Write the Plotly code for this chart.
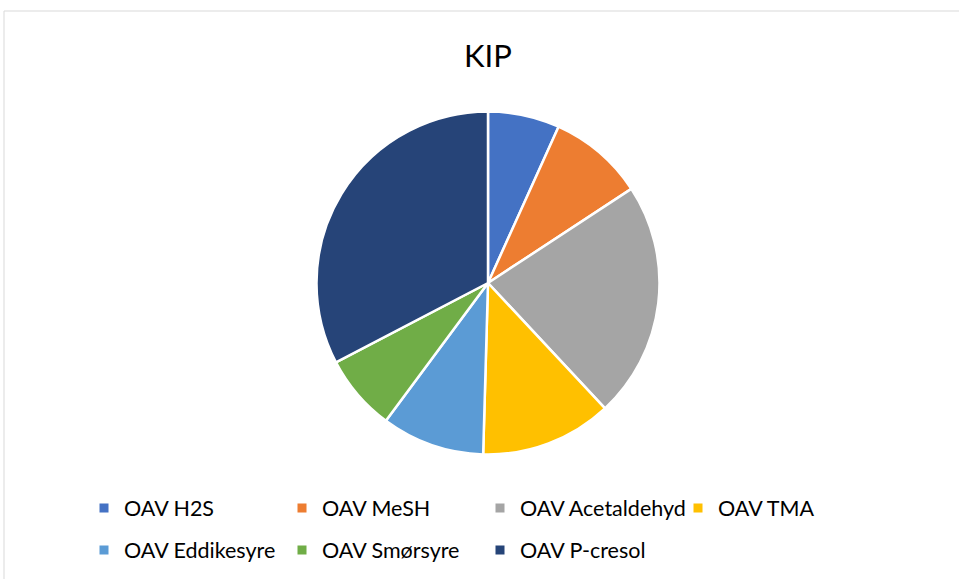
import plotly.graph_objects as go

labels = ["OAV H2S", "OAV MeSH", "OAV Acetaldehyd", "OAV TMA",
          "OAV Eddikesyre", "OAV Smørsyre", "OAV P-cresol"]
values = [6.75, 9.0, 22.3, 12.4, 9.7, 7.2, 32.65]
colors = ["#4472C4", "#ED7D31", "#A5A5A5", "#FFC000",
          "#5B9BD5", "#70AD47", "#264478"]
legend_rows = [0, 0, 0, 0, 1, 1, 1]

W, H = 959, 579
cx, cy = 488, 283
rd = 171.5

fig = go.Figure(go.Pie(
    labels=labels, values=values, sort=False, direction="clockwise",
    rotation=0, textinfo="none", hoverinfo="label+percent", showlegend=False,
    marker=dict(colors=colors, line=dict(color="white", width=2.5)),
    domain=dict(x=[(cx - rd) / W, (cx + rd) / W],
                y=[(H - cy - rd) / H, (H - cy + rd) / H]),
))

# legend entries (two rows, as in the original)
for lab, col, row in zip(labels, colors, legend_rows):
    fig.add_trace(go.Scatter(
        x=[None], y=[None], mode="markers", name=lab,
        marker=dict(symbol="square", size=9, color=col),
        legend="legend" if row == 0 else "legend2", hoverinfo="skip"))

leg_common = dict(orientation="h", x=84 / W, xanchor="left", yanchor="middle",
                  entrywidth=153, entrywidthmode="pixels",
                  font=dict(size=21.5, color="#000000"), bgcolor="rgba(0,0,0,0)")

fig.update_layout(
    width=W, height=H,
    margin=dict(l=0, r=0, t=0, b=0),
    paper_bgcolor="white", plot_bgcolor="white",
    xaxis=dict(visible=False), yaxis=dict(visible=False),
    font=dict(family="Lato, 'Open Sans', sans-serif", color="#000000"),
    title=dict(text="KIP", x=488 / W, xanchor="center", y=1 - 56 / H, yanchor="middle",
               font=dict(size=31, color="#000000")),
    showlegend=True,
    legend=dict(y=1 - 508 / H, **leg_common),
    legend2=dict(y=1 - 550 / H, **leg_common),
    shapes=[dict(type="line", xref="paper", yref="paper", x0=4 / W, x1=1, y0=1 - 11 / H, y1=1 - 11 / H,
                 line=dict(color="#D9D9D9", width=1)),
            dict(type="line", xref="paper", yref="paper", x0=4 / W, x1=4 / W, y0=0, y1=1 - 11 / H,
                 line=dict(color="#D9D9D9", width=1))],
)

fig.write_html("out.html", config={"displayModeBar": False},
               post_script="document.body.style.margin='0';document.body.style.overflow='hidden';")
